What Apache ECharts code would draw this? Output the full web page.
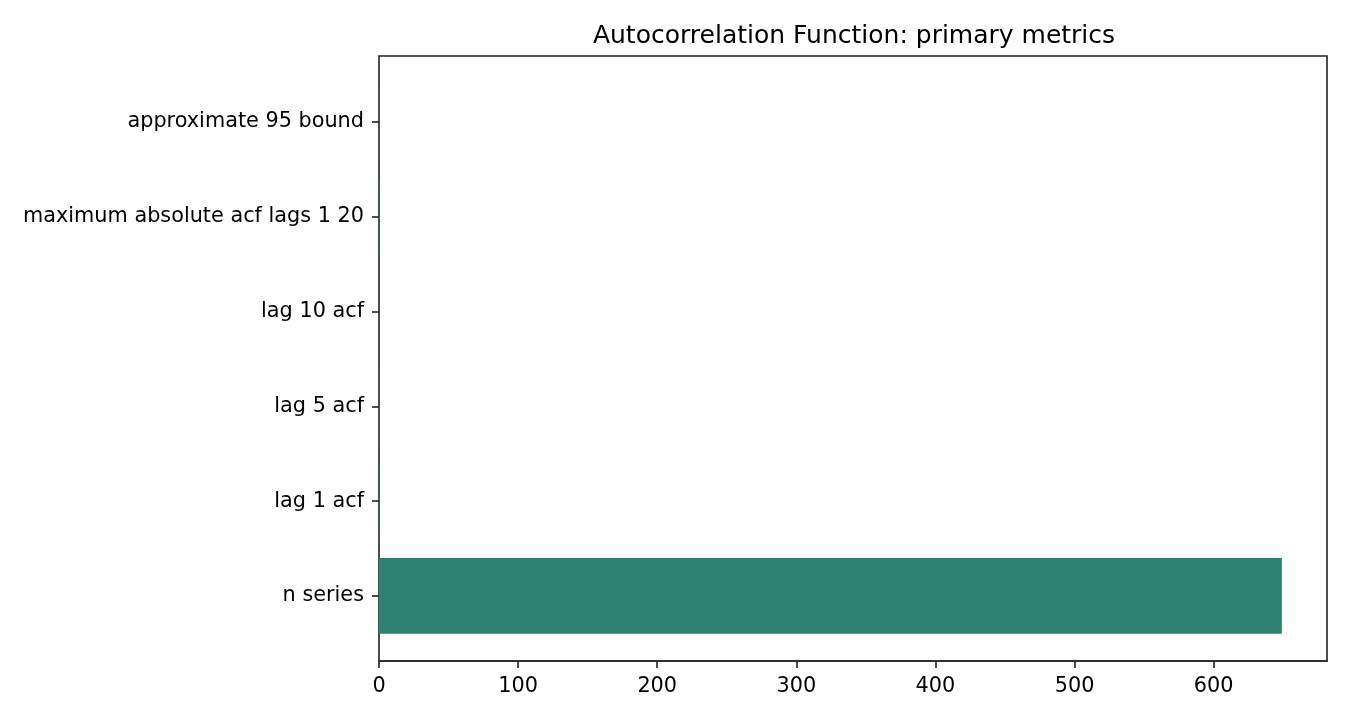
<!DOCTYPE html>
<html>
<head>
<meta charset="utf-8">
<script src="https://cdn.jsdelivr.net/npm/echarts@6/dist/echarts.min.js"></script>
<style>
html,body{margin:0;padding:0;background:#fff;}
#chart{width:1350px;height:720px;}
</style>
</head>
<body>
<div id="chart"></div>
<script>
var categories = ['n series', 'lag 1 acf', 'lag 5 acf', 'lag 10 acf', 'maximum absolute acf lags 1 20', 'approximate 95 bound'];
var values = [649, 0.3, 0.1, 0.05, 0.35, 0.077];
var xTicks = [0, 100, 200, 300, 400, 500, 600];
var xMax = 681.45;
var titleText = 'Autocorrelation Function: primary metrics';
var barColor = '#2e8170';

var FONT = 'DejaVu Sans';
var chart = echarts.init(document.getElementById('chart'), null, {renderer: 'canvas'});
chart.setOption({
  animation: false,
  backgroundColor: '#ffffff',
  title: {
    text: titleText,
    left: 849,
    top: 19,
    textAlign: 'center',
    textStyle: {fontFamily: FONT, fontSize: 25, fontWeight: 'normal', color: '#000'}
  },
  grid: [
    {left: 379, right: 23, top: 56, bottom: 59, show: true, borderColor: '#222', borderWidth: 1.6, backgroundColor: 'transparent'},
    {left: 379, right: 23, top: 74.65, bottom: 76.65}
  ],
  xAxis: [
    {
      gridIndex: 0, type: 'value', min: 0, max: xMax, interval: 100,
      axisLine: {show: true, lineStyle: {color: '#222', width: 1.6}},
      axisTick: {show: true, length: 7, lineStyle: {color: '#222', width: 1.6}},
      axisLabel: {show: true, margin: 15, fontFamily: FONT, fontSize: 20.8, color: '#000',
        showMaxLabel: false,
        formatter: function (v) { return xTicks.indexOf(v) >= 0 ? String(v) : ''; }},
      splitLine: {show: false}
    },
    {gridIndex: 1, type: 'value', min: 0, max: xMax, show: false, splitLine: {show: false}}
  ],
  yAxis: [
    {gridIndex: 0, type: 'value', show: false, splitLine: {show: false}},
    {
      gridIndex: 1, type: 'category', data: categories,
      axisLine: {show: false},
      axisTick: {show: true, alignWithLabel: true, length: 7, lineStyle: {color: '#222', width: 1.6}},
      axisLabel: {margin: 15, padding: [8, 0, 0, 0], fontFamily: FONT, fontSize: 20.8, color: '#000'},
      splitLine: {show: false}
    }
  ],
  series: [{
    type: 'bar',
    xAxisIndex: 1,
    yAxisIndex: 1,
    data: values,
    barCategoryGap: '20%',
    itemStyle: {color: barColor}
  }]
});
</script>
</body>
</html>
